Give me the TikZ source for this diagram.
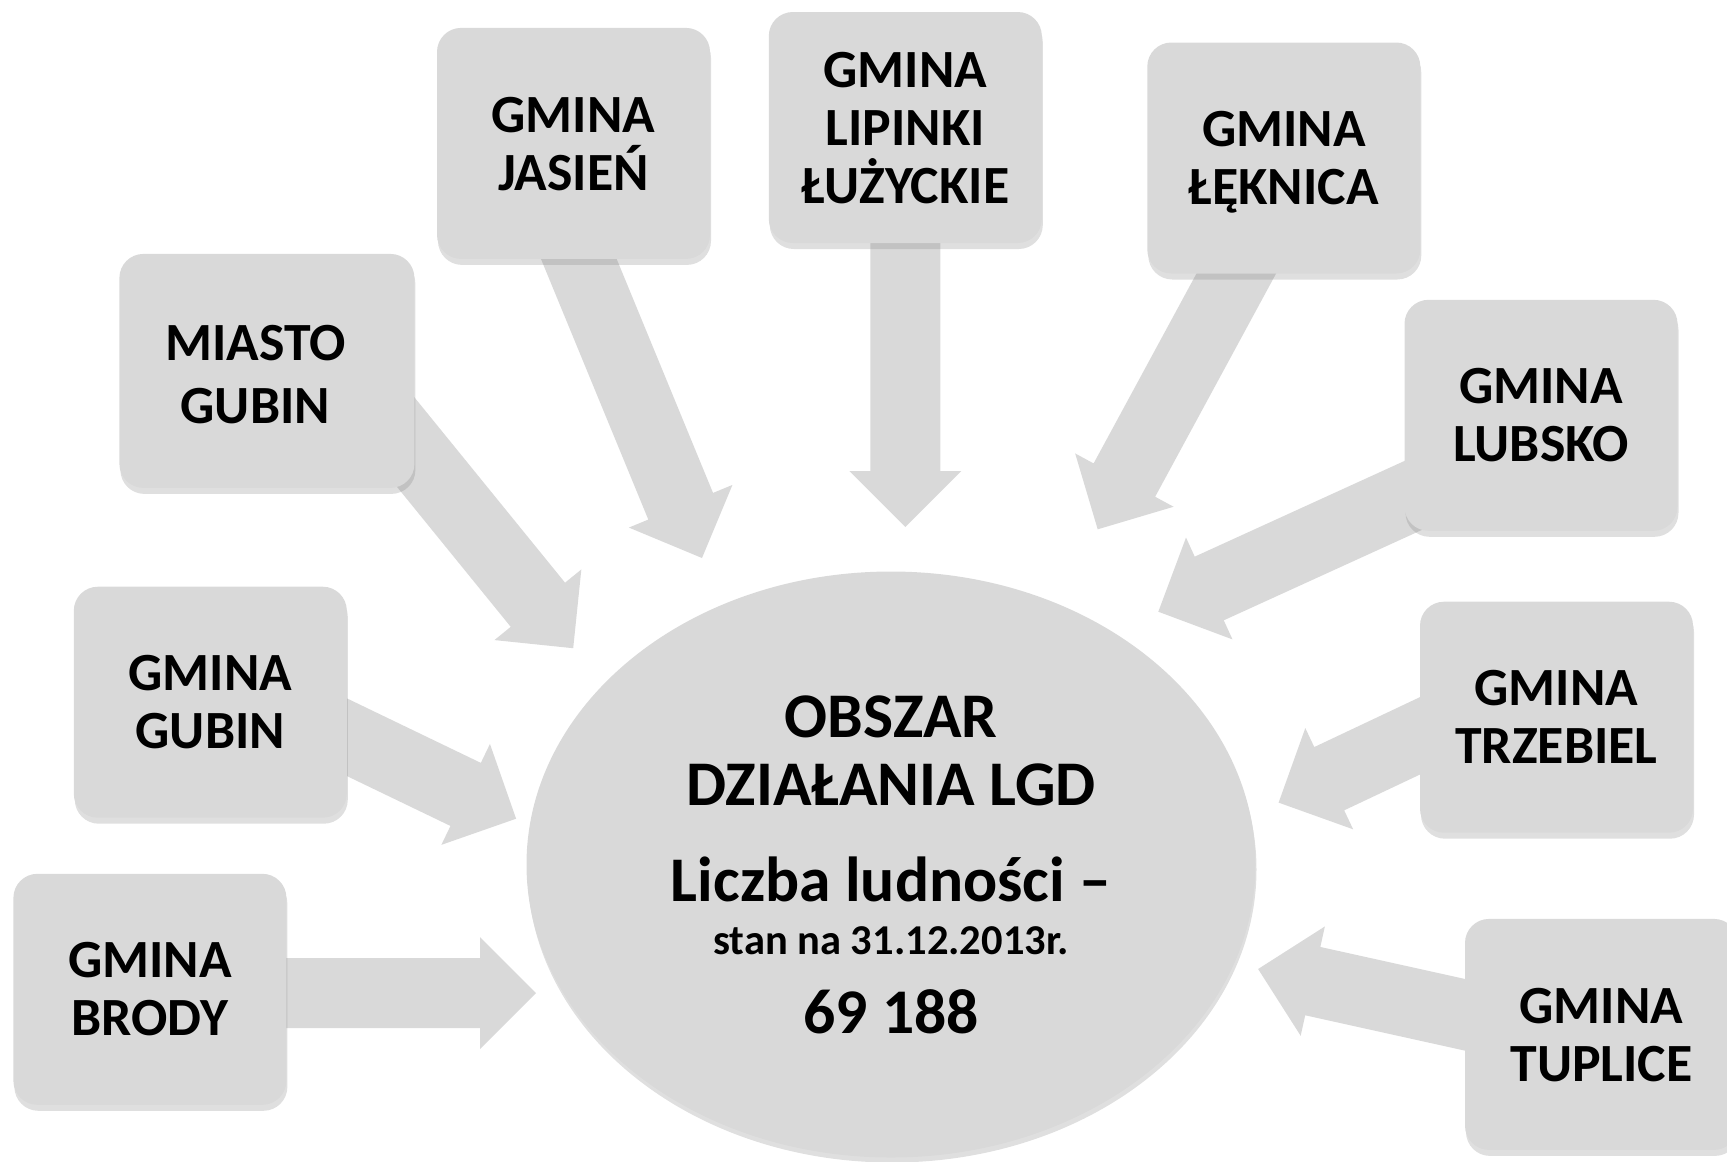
\documentclass[tikz,border=0pt]{standalone}
\usepackage{fontspec}
\setmainfont{Carlito}
\usetikzlibrary{calc,shapes.geometric,shadows}

\definecolor{boxgray}{HTML}{D9D9D9}

% wide arrow: tail #1, tip #2
\newcommand{\blockarrow}[2]{%
  \coordinate (hb) at ($(#2)!5.6mm!(#1)$);
  \fill [boxgray] ($(#1)!3.5mm!90:(#2)$) -- ($(hb)!3.5mm!90:(#2)$) -- ($(hb)!5.6mm!90:(#2)$) -- (#2)
    -- ($(hb)!5.6mm!-90:(#2)$) -- ($(hb)!3.5mm!-90:(#2)$) -- ($(#1)!3.5mm!-90:(#2)$) -- cycle;}

\tikzset{
  boxtext/.style={align=center, text depth=0pt, font=\fontsize{15.3}{16.5}\selectfont\bfseries},
  gmina/.style={boxtext, rectangle, rounded corners=2.4mm, fill=boxgray, inner sep=0pt,
    minimum width=27.3mm, minimum height=23.1mm,
    drop shadow={shadow xshift=0.1mm, shadow yshift=-0.6mm, opacity=0.25}},
}

\begin{document}
\begin{tikzpicture}[x=0.1mm, y=-0.1mm]
\useasboundingbox (0,0) rectangle (1727,1161);

% arrows first, the boxes cover their tails
\coordinate (from-brody) at (200,993);      \coordinate (to-brody) at (536,993);
\coordinate (from-gubin) at (300,714.6);    \coordinate (to-gubin) at (516.1,818.7);
\coordinate (from-miasto) at (365,392);     \coordinate (to-miasto) at (573.2,648.2);
\coordinate (from-jasien) at (549.6,188);   \coordinate (to-jasien) at (702,558);
\coordinate (from-lipinki) at (905.3,150);  \coordinate (to-lipinki) at (905.3,527);
\coordinate (from-leknica) at (1255,239);   \coordinate (to-leknica) at (1097.7,529.3);
\coordinate (from-lubsko) at (1458.6,474.7); \coordinate (to-lubsko) at (1158.3,611.7);
\coordinate (from-trzebiel) at (1577,661.6); \coordinate (to-trzebiel) at (1278.6,802.6);
\coordinate (from-tuplice) at (1580.2,1040.3); \coordinate (to-tuplice) at (1258.1,969);

\foreach \g in {brody,gubin,miasto,jasien,lipinki,leknica,lubsko,trzebiel,tuplice}
  \blockarrow{from-\g}{to-\g};

\node [ellipse, fill=boxgray, inner sep=0pt, minimum width=72.9mm, minimum height=58.6mm,
  align=center, text depth=0pt, font=\fontsize{18.1}{19.3}\selectfont\bfseries,
  drop shadow={shadow xshift=0.1mm, shadow yshift=-0.5mm, opacity=0.25}] (lgd) at (891,864.5)
  {OBSZAR\\DZIAŁANIA LGD\\[8.1pt]Liczba ludności –\\[-4.3pt]{\fontsize{12.1}{13}\selectfont stan na 31.12.2013r.}\\[3.2pt]69 188};

\node [gmina, minimum width=29.5mm, minimum height=23.4mm] (miasto) at (266.9,370.9) {};
\node [boxtext, font=\fontsize{15.3}{17.9}\selectfont\bfseries] (miasto-text)
  at ([xshift=-1.16mm, yshift=-0.32mm]miasto.center) {MIASTO\\GUBIN};
\node [gmina] (jasien) at (573.5,143.4) {GMINA\\JASIEŃ};
\node [gmina] (lipinki) at (905.3,127.5) {GMINA\\LIPINKI\\ŁUŻYCKIE};
\node [gmina] (leknica) at (1283.8,158) {GMINA\\ŁĘKNICA};
\node [gmina] (lubsko) at (1541,415.3) {GMINA\\LUBSKO};
\node [gmina] (trzebiel) at (1556.5,717.2) {GMINA\\TRZEBIEL};
\node [gmina] (tuplice) at (1601.5,1034.4) {GMINA\\TUPLICE};
\node [gmina] (gubin) at (210.3,702.2) {GMINA\\GUBIN};
\node [gmina] (brody) at (149.9,989.3) {GMINA\\BRODY};
\end{tikzpicture}
\end{document}
